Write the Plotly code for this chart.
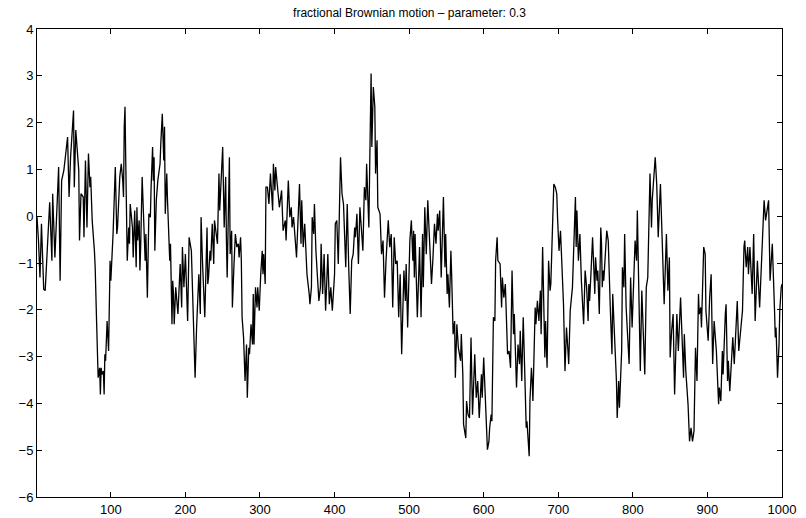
import plotly.graph_objects as go

# Fractional Brownian motion path (vertices)
seg1_x = [1,3,5,7,10,12,18,21,22,25,30,32,34,37,39,42,44,46,50,51,53,57,58,60,63,64,66,68,70,72,73,75,78,79,81,83,85,86,87,88,90,91,92,93,95,97,99,100,103,105,106,108,109,112,114,116,117,118,119,120,122,124,125,126,128,129]
seg1_y = [-0.02,-0.52,-1.31,-0.16,-1.56,-1.59,0.30,-0.95,0.48,-0.88,1.05,-1.38,0.76,0.98,1.26,1.69,0.41,1.26,2.26,0.62,1.84,0.98,-0.52,0.48,0.41,-0.45,1.19,-0.24,1.34,0.62,0.84,-0.09,-0.74,-1.09,-2.31,-3.45,-3.24,-3.81,-3.24,-3.38,-3.31,-3.81,-2.95,-3.09,-2.24,-2.88,-0.95,-1.38,-0.38,0.34,1.05,-0.38,-0.24,0.84,1.12,0.76,0.41,1.91,2.34,1.19,-0.95,-0.24,-0.59,0.26,-0.24,-0.24]

seg2_x = [130,132,134,135,136,138,139,140,142,146,147,149,151,153,154,156,157,158,159,161,163,166,167,169,171,172,173,175,176,178,179,180,181,182,183,184,185,187,190,193,195,196,198,200,203,204,205,208,209,212,213,215,216,218,220,221,223,226,229,230,231,233,234,236,238,239,243,245,246,250,252,254,255]
seg2_y = [-0.88,0.12,-1.09,0.19,-0.52,-0.09,-1.16,-0.66,0.84,-0.95,-0.38,-1.74,0.05,-0.02,0.62,1.48,0.76,1.26,-0.74,0.34,0.76,1.12,1.55,2.19,1.19,1.91,0.05,0.91,0.34,-0.59,-0.95,-0.59,-1.38,-2.31,-1.38,-1.66,-2.31,-1.52,-2.09,-1.02,-1.95,-0.66,-1.52,-0.81,-2.24,-0.88,-0.45,-0.74,-1.24,-2.59,-3.45,-2.38,-2.09,-1.24,-2.09,-0.02,-1.02,-2.16,-0.24,-1.45,-1.31,-0.74,-0.95,-0.16,-1.02,-0.09,-0.59,0.91,0.12,1.48,-0.24,0.84,-0.52]

seg3_x = [256,259,260,262,263,265,267,269,271,272,274,275,276,278,280,282,283,285,286,288,290,291,292,294,296,297,299,301,303,304,305,307,308,310,312,314,317,318,320,321,324,326,329,331,334,335,338,340,342,343,345,349,353,355,356,358,360,362,363,366,367,369,370,372,373,375,377,379,381]
seg3_y = [-1.31,1.26,-0.81,-0.31,-1.95,-1.09,-0.38,-0.66,-0.59,-0.88,-0.45,-0.95,-2.16,-2.59,-3.52,-2.74,-3.88,-2.81,-2.95,-2.31,-2.74,-1.66,-2.74,-1.52,-1.95,-1.52,-2.02,-1.24,-0.74,-1.24,-0.81,-1.45,0.62,0.62,0.26,0.91,0.12,1.12,0.55,1.05,0.48,0.19,0.55,-0.31,-0.09,-0.52,0.76,-0.02,0.19,-0.24,-0.02,-0.88,0.69,-0.59,0.34,-0.66,-0.16,-1.02,-1.24,-1.66,-1.88,-1.52,-0.02,-0.38,0.26,-0.74,-1.24,-1.81,-1.52]

seg4_x = [382,384,386,388,391,393,395,397,400,401,403,405,406,408,410,412,415,417,419,421,423,425,427,428,430,432,434,436,438,440,442,443,446,447,449,450,452,454,455,457,458,461,463,465,467,469,472,474,476,478,480,482,484,486,488,490,493,495,496,498,500,501,503,505,506,507]
seg4_y = [-0.59,-1.66,-0.81,-2.02,-0.81,-1.88,-1.52,-2.02,-1.24,-0.16,-0.09,-1.02,-0.38,1.26,0.48,0.26,-1.09,0.26,-1.09,-2.09,-0.95,-0.81,-0.24,-0.45,0.05,-1.02,0.19,-0.24,-0.74,0.62,0.34,1.12,-0.24,0.91,3.05,1.48,2.76,2.34,0.91,1.62,0.19,0.05,-0.81,-0.52,-1.74,-0.95,-0.09,-0.66,-0.38,-1.95,-0.45,-1.02,-0.95,-2.16,-1.24,-2.95,-1.16,-1.81,-1.02,-2.38,-0.59,-0.52,-0.09,-0.95,-0.31,-1.31]

seg5_x = [508,510,511,514,516,518,519,521,523,525,526,528,530,532,534,536,538,539,541,543,546,548,549,551,552,554,556,557,559,561,562,564,566,569,570,572,573,576,577,579,581,583,585,588,590,592,594,597,598,600,602,604,605,607,608,610,611,613,615,616,618,619,622,624,625,627,629,632,633]
seg5_y = [-0.38,-1.95,-2.16,-0.66,-2.16,-0.38,-1.52,0.19,-0.81,0.34,-0.09,-0.59,-1.45,-0.88,-0.16,-0.59,0.05,-0.31,0.12,-1.31,0.41,-1.09,-0.38,-1.66,-1.24,-1.95,-0.74,-1.24,-2.52,-2.24,-3.45,-2.31,-2.81,-3.09,-2.52,-3.38,-4.45,-4.74,-3.95,-4.24,-4.31,-2.59,-4.24,-2.95,-3.88,-3.52,-4.31,-3.38,-3.88,-3.02,-3.74,-4.52,-4.99,-4.81,-4.52,-4.24,-4.38,-2.16,-2.24,-0.95,-0.45,-0.95,-1.02,-1.95,-1.31,-1.74,-1.45,-2.95,-2.88]

seg6_x = [634,636,637,638,640,641,644,646,648,649,651,653,655,657,658,661,662,664,665,666,669,670,672,674,676,677,679,682,683,685,687,689,690,694,696,698,699,701,703,705,707,709,711,713,714,716,719,723,724,725,727,729,731,734,736,738,740,741,742,744,746,749,750,752,753,755,757,758,759]
seg6_y = [-2.88,-3.24,-1.95,-1.16,-2.52,-2.09,-3.66,-2.74,-3.16,-2.45,-3.52,-2.16,-3.31,-4.52,-4.38,-5.13,-3.95,-3.24,-3.52,-3.95,-1.95,-2.31,-1.81,-2.24,-1.59,-2.52,-0.66,-3.02,-2.24,-3.24,-0.95,-1.59,-1.45,0.69,0.62,0.48,-0.02,-0.74,-0.31,-1.02,-1.88,-3.31,-2.38,-2.88,-3.16,-2.02,-1.52,0.41,-0.66,0.12,-0.95,-0.38,-1.38,-2.31,-1.16,-1.52,-2.24,-1.45,-1.81,-1.16,-0.45,-1.66,-0.88,-1.38,-1.16,-2.09,-0.24,-0.59,-1.52]

seg7_x = [760,761,765,767,770,772,773,775,778,779,781,782,785,786,788,789,791,795,797,799,801,803,805,806,808,810,812,814,816,818,820,823,825,826,830,832,834,837,840,842,845,847,849,850,852,854,856,859,861,864,868,869,871,874,876,878,880,882]
seg7_y = [-1.16,-1.38,-0.31,-0.52,-2.09,-2.95,-1.66,-2.38,-3.52,-4.31,-3.52,-4.09,-2.88,-1.09,-1.52,-0.38,-1.95,-3.16,-1.31,-2.38,-1.31,-0.52,-0.95,0.12,-1.59,-3.31,-1.59,-2.52,-3.38,-1.52,-1.31,0.91,-0.24,0.34,1.26,0.69,-0.45,0.69,-0.95,-1.88,-0.38,-1.59,-0.88,-3.02,-2.45,-2.09,-3.81,-2.09,-2.88,-1.74,-3.45,-2.52,-3.31,-4.02,-4.81,-4.52,-4.81,-4.59]

seg8_x = [884,886,888,889,891,892,895,897,898,901,903,905,907,909,912,915,916,918,920,921,924,925,927,928,930,934,936,940,942,945,947,949,950,952,954,955,957,960,962,964,967,970,976,978,982,984,987,990,991,992,994,996,997,999,1000]
seg8_y = [-2.81,-3.52,-1.66,-2.09,-1.95,-2.38,-0.66,-0.81,-2.02,-2.66,-1.74,-1.24,-3.16,-2.24,-2.88,-4.02,-3.66,-3.95,-2.88,-3.38,-2.09,-1.88,-3.52,-3.09,-3.74,-2.59,-3.16,-1.81,-2.88,-2.24,-2.02,-0.66,-0.52,-1.09,-0.66,-1.24,-0.66,-1.66,-0.38,-2.24,-0.95,-1.95,0.34,-0.09,0.34,-1.38,-0.59,-2.02,-2.59,-2.38,-3.45,-2.74,-2.02,-1.52,-1.45]

x_ticks = [100, 200, 300, 400, 500, 600, 700, 800, 900, 1000]
y_ticks = [-6, -5, -4, -3, -2, -1, 0, 1, 2, 3, 4]
title_text = "fractional Brownian motion \u2013 parameter: 0.3"

xs = seg1_x + seg2_x + seg3_x + seg4_x + seg5_x + seg6_x + seg7_x + seg8_x
ys = seg1_y + seg2_y + seg3_y + seg4_y + seg5_y + seg6_y + seg7_y + seg8_y

fig = go.Figure()
fig.add_trace(go.Scatter(x=xs, y=ys, mode="lines",
                         line=dict(color="black", width=1.3),
                         showlegend=False, hoverinfo="skip"))

font_family = "Liberation Sans, Arial, Helvetica"
axis_common = dict(showline=True, linecolor="black", linewidth=1, mirror="ticks",
                   ticks="inside", ticklen=5, tickcolor="black", tickwidth=1,
                   showgrid=False, zeroline=False, automargin=False,
                   tickfont=dict(family=font_family, size=13, color="black"))

fig.update_layout(
    width=806, height=518,
    margin=dict(l=37, r=24, t=29, b=21),
    paper_bgcolor="white", plot_bgcolor="white",
    title=dict(text=title_text, x=0.5, xref="paper", y=1 - 13 / 518, yref="container",
               yanchor="middle", xanchor="center",
               font=dict(family=font_family, size=12, color="black")),
    xaxis=dict(range=[1, 1000], tickvals=x_ticks, ticktext=[str(v) for v in x_ticks], **axis_common),
    yaxis=dict(range=[-6, 4], tickvals=y_ticks, ticktext=[("\u2212" + str(-v)) if v < 0 else str(v) for v in y_ticks], **axis_common),
)

fig.write_html("out.html",
               config={"displayModeBar": False},
               post_script="document.body.style.margin='0';document.body.style.overflow='hidden';")
